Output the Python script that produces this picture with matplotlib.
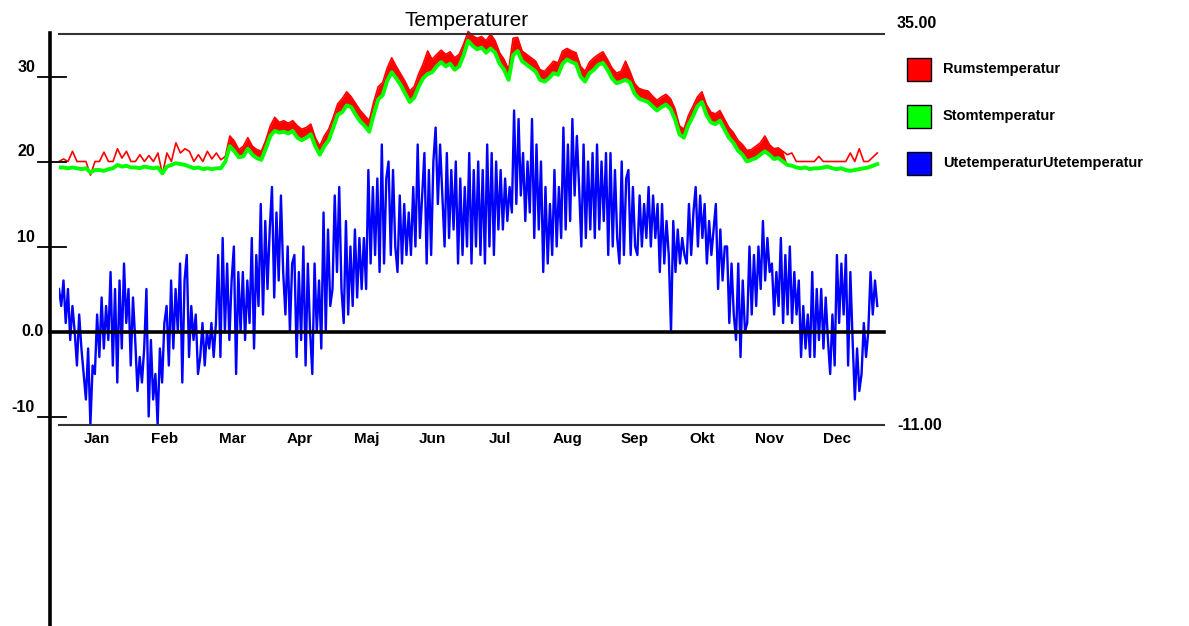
import numpy as np
import matplotlib.pyplot as plt
from matplotlib.lines import Line2D
from matplotlib.patches import Rectangle
from matplotlib import transforms

plt.rcParams["font.family"] = ["Liberation Sans", "DejaVu Sans"]

# Month labels
manader = ["Jan", "Feb", "Mar", "Apr", "Maj", "Jun", "Jul", "Aug", "Sep", "Okt", "Nov", "Dec"]

# y axis labels
y_ticks = [30, 20, 10, -10]
y_labels = ["30", "20", "10", "-10"]

# Room temperature, every second day
rum = [
    20.0, 20.3, 20.0, 21.2, 20.0, 20.0, 20.0, 18.4, 20.0, 20.0,
    21.1, 20.0, 20.0, 21.5, 20.4, 21.2, 20.0, 20.0, 20.8, 20.0,
    20.7, 20.0, 21.0, 18.5, 21.0, 20.0, 22.2, 21.0, 21.5, 21.2,
    20.0, 20.8, 20.0, 21.2, 20.3, 21.0, 20.2, 20.6, 23.0, 22.4,
    21.4, 21.8, 22.8, 21.8, 21.4, 21.2, 22.5, 24.2, 25.2, 24.6,
    24.8, 24.5, 24.8, 24.2, 23.8, 24.0, 24.4, 22.8, 21.8, 23.0,
    23.8, 25.2, 26.8, 27.4, 28.2, 27.6, 26.8, 26.0, 25.4, 24.8,
    27.0, 28.8, 29.3, 31.0, 32.2, 31.2, 30.3, 29.4, 28.3, 28.8,
    30.3, 31.5, 33.0, 32.0, 32.6, 33.1, 32.6, 32.9, 32.2, 32.6,
    33.8, 35.3, 34.8, 34.5, 34.7, 34.2, 35.0, 34.2, 32.8, 32.0,
    30.8, 34.5, 34.6, 33.0, 32.6, 32.2, 31.8, 30.8, 30.6, 31.2,
    31.8, 31.6, 33.0, 33.3, 33.0, 32.8, 31.2, 30.6, 31.7, 32.2,
    32.6, 32.9, 32.0, 31.0, 30.4, 30.6, 31.8, 30.6, 29.2, 28.6,
    28.4, 28.3, 27.7, 27.2, 27.6, 27.9, 27.4, 26.2, 24.2, 23.8,
    25.4, 26.5, 27.6, 28.2, 26.7, 25.8, 25.6, 26.0, 25.0, 24.0,
    23.4, 22.5, 22.0, 21.3, 21.4, 21.8, 22.2, 23.0, 22.0, 21.5,
    21.6, 21.2, 20.8, 21.0, 20.0, 20.0, 20.0, 20.0, 20.0, 20.6,
    20.0, 20.0, 20.0, 20.0, 20.0, 20.0, 21.0, 20.0, 21.5, 20.0,
    20.0, 20.5, 21.0,
]

# Stom temperature, every second day
stom = [
    19.3, 19.3, 19.2, 19.3, 19.2, 19.1, 19.2, 18.7, 19.0, 19.0,
    18.9, 19.1, 19.2, 19.6, 19.4, 19.5, 19.3, 19.3, 19.2, 19.4,
    19.3, 19.2, 19.3, 18.6, 19.4, 19.6, 19.8, 19.7, 19.6, 19.4,
    19.2, 19.3, 19.1, 19.2, 19.1, 19.2, 19.2, 20.0, 21.8, 21.2,
    20.5, 20.6, 21.5, 20.8, 20.4, 20.2, 21.5, 23.0, 23.6, 23.4,
    23.5, 23.3, 23.6, 22.8, 22.5, 22.8, 23.2, 21.8, 20.8, 21.8,
    22.5, 24.0, 25.5, 25.8, 26.6, 26.4, 25.5, 24.7, 24.2, 23.5,
    25.5, 27.3, 27.8, 29.5, 30.5, 29.8, 29.0, 28.0, 27.0, 27.5,
    28.8, 29.8, 30.3, 30.5, 31.2, 31.7, 31.2, 31.5, 30.8, 31.2,
    32.5, 34.2, 33.6, 33.2, 33.4, 32.8, 33.3, 32.8, 31.5, 30.8,
    29.6, 32.5, 33.0, 31.8, 31.4, 31.0, 30.6, 29.6, 29.4, 29.8,
    30.4, 30.2, 31.5, 32.0, 31.7, 31.5, 30.0, 29.4, 30.4, 30.8,
    31.4, 31.6, 30.8, 29.8, 29.2, 29.4, 29.6, 29.3, 28.0, 27.4,
    27.2, 27.0, 26.5, 26.0, 26.4, 26.7, 26.2, 25.0, 23.2, 22.8,
    24.3, 25.3, 26.5, 27.0, 25.5, 24.6, 24.4, 24.8, 23.8, 22.8,
    22.2, 21.3, 20.8, 20.0, 20.2, 20.4, 20.8, 21.2, 20.8, 20.3,
    20.4, 20.0, 19.6, 19.5, 19.3, 19.2, 19.3, 19.1, 19.2, 19.2,
    19.3, 19.4, 19.2, 19.1, 19.2, 19.0, 18.9, 19.0, 19.1, 19.2,
    19.3, 19.5, 19.7,
]

# Outdoor temperature, alternating highs and lows through the year
ute = [
    5, 3, 6, 1, 5, -1, 3, 0, -4, 2, -2, -5, -8, -2, -11, -4, -5, 2, -3, 4,
    -2, 3, -1, 7, -4, 5, -6, 6, -2, 8,
    1, 5, -4, 4, -1, -7, -3, -6, -2, 5, -10, -1, -8, -5, -11, -2, -6, 1, 3, -4,
    6, -2, 5, 0, 8, -6, 6, 9, -3, 3, -1,
    2, -5, -3, 1, -4, 0, -2, 1, -3, 1, 9, -3, 11, 0, 8, -1, 6, 10, -5, 7,
    0, 7, -1, 6, 1, 11, -2, 9, 3, 15, 2, 13, 5, 12, 17, 4, 14, 6, 16, 7,
    2, 10, 0, 8, 9, -3, 7, -1, 10, -4, 8, 0, -5, 8, 0, 6, -2, 14, 0, 12,
    3, 5, 16, 7,
    17, 5, 1, 13, 2, 10, 3, 12, 4, 11, 5, 11, 5, 19, 8, 17, 9, 18, 7, 22,
    8, 18, 20, 9, 19, 10, 7, 16, 8, 15, 9, 14, 9, 17, 10, 22, 11, 16, 21, 8,
    19, 9, 20, 24, 15, 22, 16, 10, 21, 11, 19, 12, 20, 8, 18, 9, 17, 10, 21, 8,
    19, 10, 20,
    9, 19, 8, 22, 10, 21, 9, 20, 12, 19, 12, 18, 13, 17, 14, 26, 15, 25, 16, 21,
    13, 20, 14, 25, 11, 22, 12, 20, 7, 17, 8, 15, 9, 19, 10, 17, 11, 24, 12, 22,
    13, 25, 16, 23, 17, 10, 22, 11, 20, 12, 21, 11, 22, 12, 20, 13, 21, 9, 21, 10,
    19, 11,
    8, 20, 9, 18, 19, 9, 17, 10, 9, 16, 10, 15, 11, 17, 10, 16, 11, 15, 7, 15,
    8, 13, 9, 0, 13, 7, 12, 8, 11, 9, 8, 15, 9, 14, 17, 10, 16, 11, 15, 8,
    13, 9, 12, 15, 5, 12, 6, 10, 10, 1, 8, 2, -1, 8, -3, 6, 0, 1, 10, 2,
    9, 3, 10,
    5, 13, 6, 11, 7, 8, 2, 7, 3, 11, 1, 9, 2, 10, 1, 7, 2, 6, -3, 3,
    -2, 2, -3, 7, -3, 5, -1, 5, -2, 4, -1, -5, 2, -4, 9, 1, 8, 2, 9, -4,
    7, -1, -8, -2, -7, -5, 1, -3, 0, 7, 2, 6, 3,
]

W, H = 1189, 626
fig = plt.figure(figsize=(W / 100, H / 100), dpi=100)
ax = fig.add_axes([59 / W, 1 - 425 / H, 825 / W, 391 / H])
ax.set_xlim(0, 367)
ax.set_ylim(-11, 35)
for s in ax.spines.values():
    s.set_visible(False)
ax.set_yticks([])

x2 = np.linspace(0, 364, len(rum))
xu = np.linspace(0, 364, len(ute))
rum_a = np.array(rum)
stom_a = np.array(stom)

ax.plot(xu, ute, color="#0000ff", lw=1.7, zorder=2)
ax.fill_between(x2, stom_a, rum_a, where=stom_a >= 20, interpolate=True,
                color="#ff0000", lw=0, zorder=2)
ax.plot(x2, rum_a, color="#ff0000", lw=1.2, zorder=2, clip_on=False)
ax.plot(x2, stom_a, color="#00ff00", lw=2.8, zorder=3)

# frame lines
ax.axhline(35, color="#333333", lw=1.5, clip_on=False, zorder=4)
ax.axhline(-11, color="#333333", lw=1.5, clip_on=False, zorder=4)
ax.axhline(0, xmin=-9 / 825, xmax=1, color="black", lw=2.6, clip_on=False, zorder=4)

# month labels
ax.set_xticks([17, 47, 77, 107, 137, 166, 196, 226, 256, 286, 316, 346])
ax.set_xticklabels(manader, fontweight="bold", fontsize=11)
ax.tick_params(axis="x", length=0, pad=5)

# left axis with ticks
fig.add_artist(Line2D([50 / W, 50 / W], [0, 1 - 33 / H], color="black", lw=2.6))
trans = transforms.blended_transform_factory(fig.transFigure, ax.transData)
lbl_trans = transforms.offset_copy(trans, fig=fig, x=0, y=5, units="dots")
for v, lbl in zip(y_ticks, y_labels):
    ax.plot([38 / W, 66 / W], [v, v], transform=trans, color="black", lw=1.3, clip_on=False)
    ax.text(35 / W, v, lbl, transform=lbl_trans, ha="right", va="baseline",
            fontsize=11.5, fontweight="bold")
ax.text(44 / W, 0, "0.0", transform=trans, ha="right", va="center",
        fontsize=11.5, fontweight="bold")

fig.text(467 / W, 1 - 20 / H, "Temperaturer", ha="center", va="center", fontsize=15)
fig.text(897 / W, 1 - 23 / H, "35.00", ha="left", va="center", fontsize=11.5, fontweight="bold")
fig.text(897 / W, 1 - 426 / H, "-11.00", ha="left", va="center", fontsize=11.5, fontweight="bold")

# legend
legend_items = [("Rumstemperatur", "#ff0000"), ("Stomtemperatur", "#00ff00"),
                ("UtetemperaturUtetemperatur", "#0000ff")]
for i, (name, col) in enumerate(legend_items):
    yc = 69 + 47 * i
    fig.add_artist(Rectangle((907 / W, 1 - (yc + 11.5) / H), 24 / W, 23 / H,
                             facecolor=col, edgecolor="black", lw=1,
                             transform=fig.transFigure))
    fig.text(943 / W, 1 - yc / H, name, ha="left", va="center",
             fontsize=10.5, fontweight="bold")

fig.savefig("out.png", dpi=100)
